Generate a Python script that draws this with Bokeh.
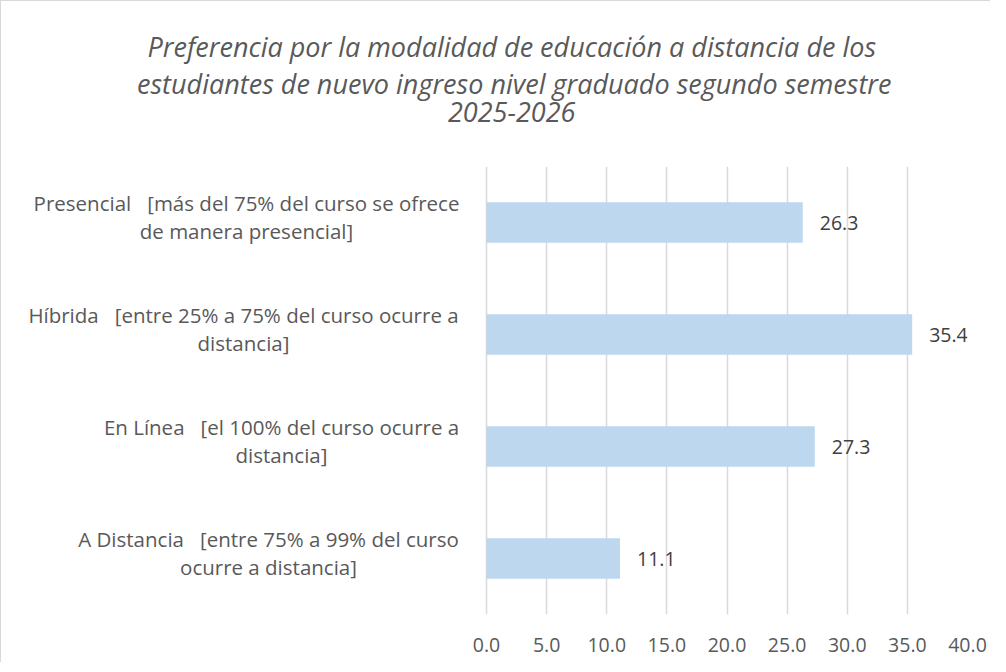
from bokeh.plotting import figure
from bokeh.models import ColumnDataSource, Title, FixedTicker, NumeralTickFormatter, Range1d, FactorRange
from bokeh.core.properties import value
from bokeh.embed import file_html
from bokeh.resources import INLINE

# ---- data ----
NB = "\u00a0\u00a0 "
categories = [
    "Presencial" + NB + "[más del 75% del curso se ofrece\nde manera presencial]",
    "Híbrida" + NB + "[entre 25% a 75% del curso ocurre a\ndistancia]",
    "En Línea" + NB + "[el 100% del curso ocurre a\ndistancia]",
    "A Distancia" + NB + "[entre 75% a 99% del curso\nocurre a distancia]",
]
values = [26.3, 35.4, 27.3, 11.1]
value_labels = ["26.3", "35.4", "27.3", "11.1"]
x_ticks = [0, 5, 10, 15, 20, 25, 30, 35, 40]
title_lines = [
    "Preferencia por la modalidad de educación a distancia de los",
    "estudiantes de nuevo ingreso nivel graduado segundo semestre",
    "2025-2026",
]

keys = ["Presencial", "Hibrida", "EnLinea", "ADistancia"]
label_centers = [246, 243, 281, 268]   # page x of label block centres
title_widths = [730, 754, 129]         # rendered widths (px) for centring
title_centers = [512, 513.5, 512]

FONT = "Open Sans"
GRAY = "#595959"
ZERO_X = 486          # page x of value 0
PX_PER_UNIT = 481 / 40

y_factors = list(reversed(keys))
p = figure(width=990, height=662, y_range=FactorRange(*y_factors),
           x_range=Range1d(-(ZERO_X - 1) / PX_PER_UNIT, 40),
           output_backend="svg", toolbar_location=None,
           min_border_left=0, min_border_right=24, min_border_top=165, min_border_bottom=49)
p.styles = {"border-left": "1px solid #d9d9d9", "border-top": "1px solid #d9d9d9"}
p.outline_line_color = None
p.background_fill_color = "white"
p.border_fill_color = "white"

# spacer between the title block and the plot area
p.add_layout(Title(text=" ", text_font=FONT, text_font_size="10px", standoff=30), "above")
# stacked title lines: first added sits closest to the plot
for line, w, c in zip(reversed(title_lines), reversed(title_widths), reversed(title_centers)):
    p.add_layout(Title(text=line, align="left", offset=c - w / 2 - 1, text_font=FONT,
                       text_font_style="italic", text_font_size="27px", text_color=GRAY,
                       standoff=-2), "above")

src = ColumnDataSource(dict(y=keys, v=values, txt=value_labels,
                            cat=categories, zero=[0, 0, 0, 0],
                            xoff=[c - ZERO_X for c in label_centers]))

p.hbar(y="y", right="v", left=0, height=0.36, source=src, fill_color="#BDD7EE", line_color=None)

p.text(x="v", y="y", text="txt", source=src, x_offset=17, y_offset=0,
       text_baseline="middle", text_align="left", text_font=value(FONT),
       text_font_size="19.5px", text_color="#404040")

p.text(x="zero", y="y", text="cat", source=src, x_offset="xoff", y_offset=-5.5,
       text_baseline="middle", text_align="center", text_font=value(FONT),
       text_font_size="20.5px", text_color=GRAY, text_line_height=0.98)

p.yaxis.visible = False
p.ygrid.grid_line_color = None
p.xgrid.grid_line_color = "#d9d9d9"
p.xgrid.grid_line_width = 1.5
p.xaxis.ticker = FixedTicker(ticks=x_ticks)
p.xaxis.formatter = NumeralTickFormatter(format="0.0")
p.xaxis.axis_line_color = None
p.xaxis.major_tick_line_color = None
p.xaxis.minor_tick_line_color = None
p.xaxis.major_label_text_font = FONT
p.xaxis.major_label_text_font_size = "19.5px"
p.xaxis.major_label_text_color = GRAY
p.xaxis.major_label_standoff = 17

open("out.html", "w").write(file_html(p, INLINE))
